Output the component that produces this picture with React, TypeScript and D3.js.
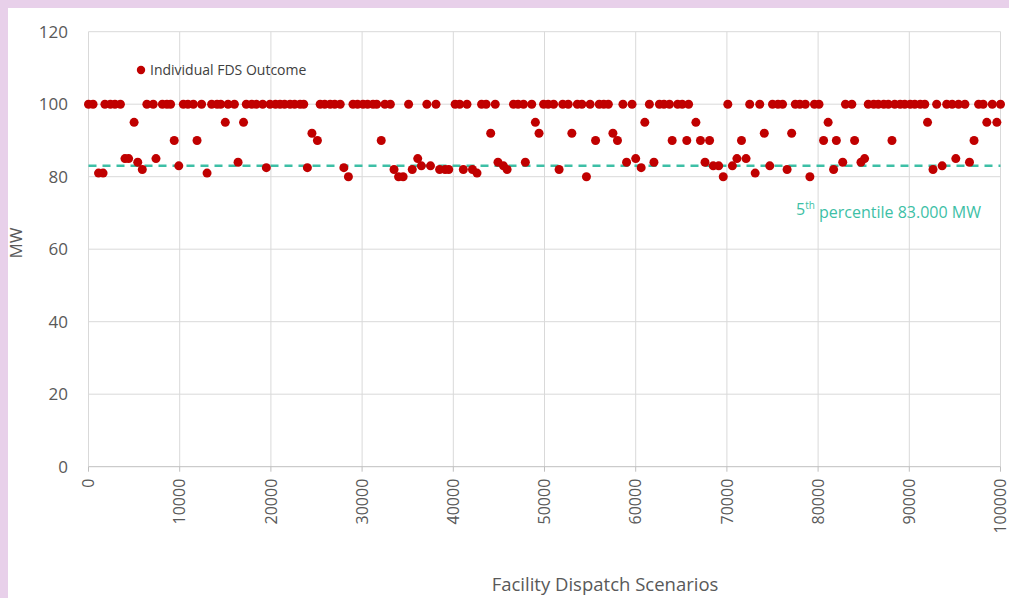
import React from "react";
import * as d3 from "d3";

const xTicks = [0, 10000, 20000, 30000, 40000, 50000, 60000, 70000, 80000, 90000, 100000];
const yTicks = [0, 20, 40, 60, 80, 100, 120];
const percentile5 = 83;

// scenarios with outcome 100 MW
const x100 = [0, 500, 1800, 2400, 2900, 3500, 6400, 7100, 8100, 8600, 9000, 10400, 10900, 11500, 12400, 13500, 14100, 14500, 15300, 16000, 17300, 17900, 18400, 19100, 19900, 20500, 21000, 21500, 22100, 22600, 23200, 23600, 25400, 25900, 26500, 27000, 27600, 29000, 29500, 30100, 30600, 31200, 31600, 32500, 33100, 35100, 37100, 38100, 40200, 40700, 41500, 43100, 43600, 44600, 46600, 47100, 47700, 48600, 49900, 50400, 51000, 52000, 52600, 53600, 54100, 55000, 56000, 56500, 57000, 58600, 59600, 61500, 62600, 63100, 63700, 64600, 65100, 65800, 70100, 72500, 73600, 75000, 75600, 76100, 77500, 78000, 78600, 79600, 80100, 83000, 83700, 85500, 86100, 86600, 87200, 87700, 88400, 89000, 89500, 90100, 90600, 91200, 91700, 93000, 94100, 94700, 95400, 96100, 97600, 98100, 99100, 100000];
const x95 = [5000, 15000, 17000, 49000, 61000, 66600, 81100, 92000, 98500, 99600];
const x92 = [24500, 44100, 49400, 53000, 57500, 74100, 77100];
const x90 = [9400, 11900, 25100, 32100, 55600, 58000, 64000, 65600, 67100, 68100, 71600, 80600, 82000, 84000, 88100, 97100];
const x85 = [4000, 4400, 7400, 36100, 60000, 71100, 72100, 85100, 95100];
const x84 = [5400, 16400, 44900, 47900, 59000, 62000, 67600, 82700, 84700, 96600];
const x83 = [9900, 36500, 37500, 45500, 68500, 69100, 70600, 74700, 93600];
const x825 = [19500, 24000, 28000, 60600];
const x82 = [5900, 33500, 35500, 38500, 39100, 39500, 41100, 42100, 45900, 51600, 76600, 81700, 92600];
const x81 = [1100, 1600, 13000, 42600, 73100];
const x80 = [28500, 34000, 34500, 54600, 69600, 79100];

const groups: [number[], number][] = [
  [x100, 100], [x95, 95], [x92, 92], [x90, 90], [x85, 85], [x84, 84],
  [x83, 83], [x825, 82.5], [x82, 82], [x81, 81], [x80, 80],
];
const points = groups.flatMap(([xs, y]) => xs.map((x) => ({ x, y })));

const W = 1009;
const H = 598;
const FONT = "'Open Sans', 'Noto Sans', sans-serif";

export default function App() {
  const x = d3.scaleLinear().domain([0, 100000]).range([88.5, 1000.5]);
  const y = d3.scaleLinear().domain([0, 120]).range([466.7, 31.7]);
  const grid = "#d9d9d9";
  const text = "#595959";
  const red = "#c00000";
  const teal = "#3dbfa6";

  return (
    <div style={{ position: "fixed", left: 0, top: 0, width: W, height: H }}>
      <svg width={W} height={H} style={{ display: "block" }}>
        <rect x={0} y={0} width={W} height={H} fill="#e8d0ea" />
        <rect x={8} y={8} width={W - 8} height={H - 8} fill="#ffffff" />
        {yTicks.filter((t) => t > 0).map((t) => (
          <line key={"gy" + t} x1={x(0)} x2={x(100000)} y1={y(t)} y2={y(t)} stroke={grid} strokeWidth={1} />
        ))}
        {xTicks.map((t) => (
          <line key={"gx" + t} x1={x(t)} x2={x(t)} y1={y(0)} y2={y(120)} stroke={grid} strokeWidth={1} />
        ))}
        <line x1={x(0)} x2={x(100000)} y1={y(0)} y2={y(0)} stroke="#bfbfbf" strokeWidth={1} />
        {xTicks.map((t) => (
          <line key={"tx" + t} x1={x(t)} x2={x(t)} y1={y(0)} y2={y(0) + 5} stroke="#bfbfbf" strokeWidth={1} />
        ))}
        {yTicks.map((t) => (
          <text key={"ly" + t} x={68} y={y(t)} dy="0.35em" textAnchor="end" fontFamily={FONT} fontSize={17} fill={text}>
            {t}
          </text>
        ))}
        {xTicks.map((t) => (
          <text
            key={"lx" + t}
            transform={`translate(${x(t)},${y(0) + 12}) rotate(-90)`}
            dy="0.35em"
            textAnchor="end"
            fontFamily={FONT}
            fontSize={16}
            fill={text}
          >
            {t}
          </text>
        ))}
        <text transform={`translate(16,243) rotate(-90)`} dy="0.35em" textAnchor="middle" fontFamily={FONT} fontSize={17} fill={text}>
          MW
        </text>
        <text x={605} y={585} dy="0.35em" textAnchor="middle" fontFamily={FONT} fontSize={18.5} fill={text}>
          Facility Dispatch Scenarios
        </text>
        <line
          x1={x(0)}
          x2={x(100000)}
          y1={y(percentile5)}
          y2={y(percentile5)}
          stroke={teal}
          strokeWidth={2.5}
          strokeDasharray="8,6"
        />
        {points.map((p, i) => (
          <circle key={i} cx={x(p.x)} cy={y(p.y)} r={4.5} fill={red} />
        ))}
        <circle cx={141} cy={70} r={4.2} fill={red} />
        <text x={150} y={70} dy="0.35em" fontFamily={FONT} fontSize={14} fill="#404040">
          Individual FDS Outcome
        </text>
        <text x={796} y={209} dy="0.35em" fontFamily={FONT} fontSize={16} fill={teal}>
          5<tspan fontSize={10} dy="-0.55em">th</tspan>
          <tspan dy="0.55em"> percentile 83.000 MW</tspan>
        </text>
      </svg>
    </div>
  );
}
